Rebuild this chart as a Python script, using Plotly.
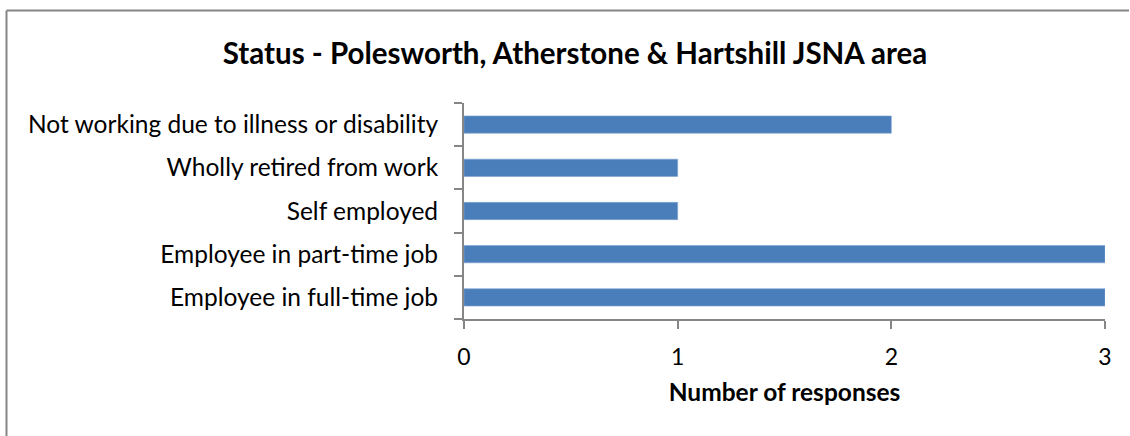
import plotly.graph_objects as go

# Survey responses by employment status
categories = [
    "Employee in full-time job",
    "Employee in part-time job",
    "Self employed",
    "Wholly retired from work",
    "Not working due to illness or disability",
]
responses = [3, 3, 1, 1, 2]

title_text = "Status - Polesworth, Atherstone & Hartshill JSNA area"
x_title = "Number of responses"
x_ticks = [0, 1, 2, 3]

FONT = "Lato"
AXIS_GREY = "#868686"
BAR_BLUE = "#4a7ebb"

W, H = 1130, 436
ML, MR, MT, MB = 464, 25, 103, 117
PW, PH = W - ML - MR, H - MT - MB

fig = go.Figure(
    go.Bar(
        x=responses,
        y=categories,
        orientation="h",
        marker=dict(color=BAR_BLUE, line=dict(color="#7fa4d2", width=0.6)),
        hoverinfo="x+y",
    )
)

fig.update_layout(
    width=W,
    height=H,
    paper_bgcolor="white",
    plot_bgcolor="white",
    margin=dict(l=ML, r=MR, t=MT, b=MB, autoexpand=False),
    bargap=0.6,
    showlegend=False,
    font=dict(family=FONT, color="#000000", size=24),
    title=dict(
        text=f"<b>{title_text}</b>",
        x=575 / W,
        xanchor="center",
        xref="container",
        y=1 - 54 / H,
        yanchor="middle",
        yref="container",
        font=dict(family=FONT, size=29.5, color="#000000"),
    ),
)

fig.update_xaxes(
    range=[0, 3],
    tickvals=x_ticks,
    ticktext=[str(v) for v in x_ticks],
    showgrid=False,
    zeroline=False,
    showline=True,
    linecolor=AXIS_GREY,
    linewidth=2,
    ticks="outside",
    ticklen=8,
    tickwidth=2,
    tickcolor=AXIS_GREY,
    ticklabelstandoff=8,
    tickfont=dict(family=FONT, size=23, color="#000000"),
    title=dict(
        text=f"<b>{x_title}</b>",
        font=dict(family=FONT, size=24.5, color="#000000"),
        standoff=15,
    ),
    fixedrange=True,
)

fig.update_yaxes(
    categoryorder="array",
    categoryarray=categories,
    showgrid=False,
    zeroline=False,
    showline=True,
    linecolor=AXIS_GREY,
    linewidth=2,
    ticks="outside",
    tickson="boundaries",
    ticklen=8,
    tickwidth=2,
    tickcolor=AXIS_GREY,
    ticklabelstandoff=19,
    tickfont=dict(family=FONT, size=24.5, color="#000000"),
    fixedrange=True,
)

# Chart-area frame: only its left and top edges fall on the page
frame_left = (6.5 - ML) / PW
frame_top = 1 + (MT - 10.5) / PH
frame_bottom = -(MB + 60) / PH
frame_right = (W - 1 - ML) / PW
for x0, y0, x1, y1 in [
    (frame_left, frame_bottom, frame_left, frame_top),
    (frame_left, frame_top, frame_right, frame_top),
]:
    fig.add_shape(
        type="line",
        xref="paper",
        yref="paper",
        x0=x0,
        y0=y0,
        x1=x1,
        y1=y1,
        line=dict(color=AXIS_GREY, width=2),
        layer="below",
    )

fig.write_html("out.html", config={"displayModeBar": False})
